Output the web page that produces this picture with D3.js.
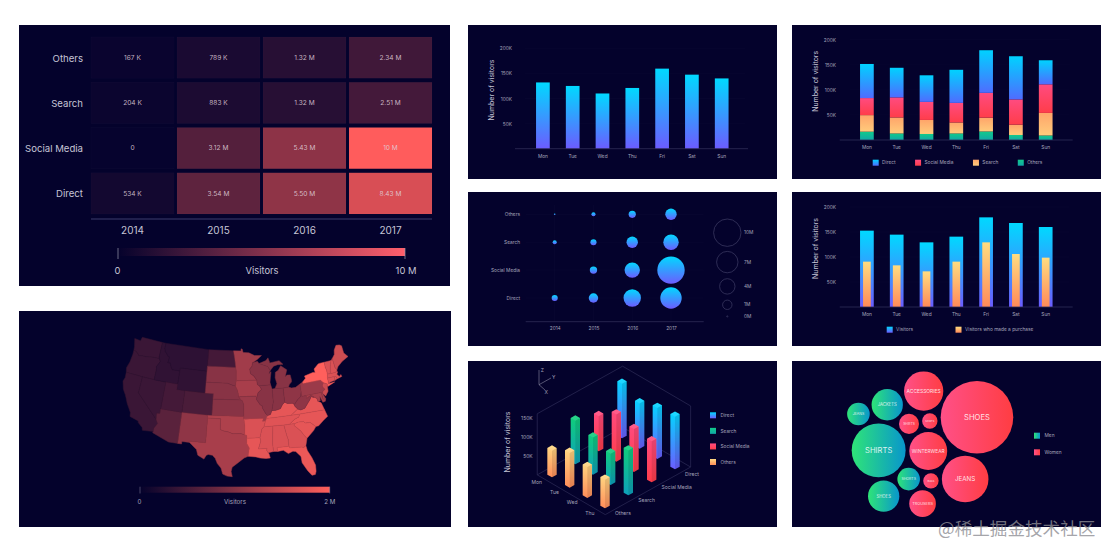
<!DOCTYPE html>
<html>
<head>
<meta charset="utf-8">
<script src="https://cdn.jsdelivr.net/npm/d3@7"></script>
<style>
html,body{margin:0;padding:0;background:#fff;}
svg{display:block;}
text{font-family:Inter,"Noto Sans",sans-serif;}
</style>
</head>
<body>
<svg id="chart" width="1116" height="558"></svg>
<script>
// ---- data ----
var years = ["2014","2015","2016","2017"];
var channels = ["Others","Search","Social Media","Direct"];
var days = ["Mon","Tue","Wed","Thu","Fri","Sat","Sun"];

// heatmap visitors per channel, same order as channels
var heatOthers = [167000,789000,1320000,2340000];
var heatSearch = [204000,883000,1320000,2510000];
var heatSocial = [0,3120000,5430000,10000000];
var heatDirect = [534000,3540000,5500000,8430000];

// thousands of visitors
var weekVisitors = [132,125,110,121,159.5,147.5,140];
var stackDirect = [68,59,53,66,85,86,48];
var stackSocial = [34,40,36,39,49.5,50.5,57];
var stackSearch = [33,32,28,22,27.5,20.5,45];
var stackOthers = [16.6,13,12,13,17,10,9];
var allVisitors = [152.7,144.7,129.3,140.7,179.3,168,160];
var buyers = [90.7,83.3,71.3,90.7,129.3,106,98.7];

// bubble grid, millions of visitors
var dotOthers = [0.05,0.35,0.73,2];
var dotSearch = [0.35,0.6,2,4];
var dotSocial = [null,0.75,4,10];
var dotDirect = [0.6,1,5,7];
var dotLegend = [10,7,4,1,0];

// 3d bars, thousands of visitors
var days3d = ["Mon","Tue","Wed","Thu"];
var series3d = ["Others","Search","Social Media","Direct"];
var bar3dOthers = [69,90,80,74];
var bar3dSearch = [113,96,81,116];
var bar3dSocial = [91,122,111,106];
var bar3dDirect = [141,117,132,136];

// packed bubbles: size and gender, links say which circles touch, rim is the outer ring going clockwise
var bubbleNames = ["SHOES","ACCESSORIES","WINTERWEAR","JEANS","SHIRTS","SKIRTS","BAGS","TROUSERS","SHIRTS","JACKETS","SHOES","JEANS","SHORTS"];
var bubbleValues = [100,29.3,27.3,41.2,7.6,4.5,4.5,13.5,55.2,18.6,18.6,9.7,9.7];
var bubbleGroups = ["Women","Women","Women","Women","Women","Women","Women","Women","Men","Men","Men","Men","Men"];
var bubbleLinks = [[0,1],[0,5],[0,2],[0,3],[1,5],[1,9],[9,4],[9,8],[9,11],[11,8],[8,4],[8,2],[8,12],[8,10],[10,12],[12,7],[12,6],[12,2],[2,4],[2,5],[4,5],[2,6],[2,3],[6,3],[6,7]];
var bubbleRim = [0,3,6,7,12,10,8,11,9,1];

// map: state, visitors in millions, outline in lon/lat
var stateNames = ["WA","OR","CA","NV","ID","MT","WY","UT","AZ","CO","NM","ND","SD","NE","KS","OK","TX","MN","IA","MO","AR","LA","MS","AL","GA","FL","SC","NC","TN","KY","VA","WV","OH","IN","IL","WI","MI","PA","NY","NJ","DE","MD","CT","RI","MA","VT","NH","ME"];
var stateVisitors = [0.42,0.42,0.42,0.42,0.34,0.32,0.34,0.5,0.68,0.55,1.1,0.5,1.05,1.05,1.05,1.35,1.3,1.25,1.3,1.2,1.7,1.8,1.7,1.7,1.7,1.85,1.8,1.8,1.75,1.8,1.8,1.1,1.1,1.05,1.05,1.05,1.05,1.2,2,1.6,1.3,1.3,1.7,1.7,1.7,1.7,1.7,1.6];
var stateOutlines = [
[[[-124.7,48.4],[-123,48.3],[-122.8,49],[-117.03,49],[-117.04,46.4],[-116.92,45.99],[-119,45.93],[-120.5,45.7],[-121.5,45.7],[-122.3,45.55],[-122.8,45.9],[-123.4,46.2],[-124,46.27],[-124.1,46.9]]],
[[[-124,46.27],[-123.4,46.2],[-122.8,45.9],[-122.3,45.55],[-121.5,45.7],[-120.5,45.7],[-119,45.93],[-116.92,45.99],[-116.5,45.5],[-117.2,44.4],[-117.03,44],[-117.03,42],[-120,42],[-124.2,42],[-124.5,42.8],[-124.1,44],[-123.95,45.5]]],
[[[-124.2,42],[-120,42],[-120,39],[-114.63,35],[-114.13,34.3],[-114.72,33.4],[-114.72,32.72],[-117.12,32.53],[-117.3,33],[-118.4,33.75],[-118.5,34.03],[-120.5,34.45],[-120.65,35.15],[-121.9,36.6],[-122.5,37.5],[-122.95,38.1],[-123.7,38.9],[-124.35,40.3],[-124.1,41]]],
[[[-120,42],[-117.03,42],[-114.04,42],[-114.04,36.2],[-114.75,36.1],[-114.63,35],[-120,39]]],
[[[-117.03,49],[-116.05,49],[-116.05,48],[-115.7,47.45],[-114.7,46.7],[-114.35,46.65],[-114.5,45.55],[-113.9,45.6],[-113.45,44.9],[-113,44.45],[-111.05,44.47],[-111.05,42],[-114.04,42],[-117.03,42],[-117.03,44],[-117.2,44.4],[-116.5,45.5],[-116.92,45.99],[-117.04,46.4]]],
[[[-116.05,49],[-104.05,49],[-104.05,45.94],[-104.05,45],[-111.05,45],[-111.05,44.47],[-113,44.45],[-113.45,44.9],[-113.9,45.6],[-114.5,45.55],[-114.35,46.65],[-114.7,46.7],[-115.7,47.45],[-116.05,48]]],
[[[-111.05,45],[-104.05,45],[-104.05,43],[-104.05,41],[-109.05,41],[-111.05,41],[-111.05,42],[-111.05,44.47]]],
[[[-114.04,42],[-111.05,42],[-111.05,41],[-109.05,41],[-109.05,37],[-114.04,37],[-114.04,36.2]]],
[[[-114.04,37],[-109.05,37],[-109.05,31.33],[-111.07,31.33],[-114.81,32.5],[-114.72,32.72],[-114.72,33.4],[-114.13,34.3],[-114.63,35],[-114.75,36.1],[-114.04,36.2]]],
[[[-109.05,41],[-104.05,41],[-102.05,41],[-102.05,40],[-102.05,37],[-103,37],[-109.05,37]]],
[[[-109.05,37],[-103,37],[-103,36.5],[-103.04,32],[-106.62,32],[-106.53,31.78],[-108.2,31.78],[-108.2,31.33],[-109.05,31.33]]],
[[[-104.05,49],[-97.23,49],[-96.85,47.5],[-96.56,45.94],[-104.05,45.94]]],
[[[-104.05,45.94],[-96.56,45.94],[-96.45,45.3],[-96.45,43.5],[-96.6,42.5],[-97.9,42.8],[-98.5,43],[-104.05,43],[-104.05,45]]],
[[[-104.05,43],[-98.5,43],[-97.9,42.8],[-96.6,42.5],[-96.1,41.7],[-95.85,40.9],[-95.77,40.58],[-95.31,40],[-102.05,40],[-102.05,41],[-104.05,41]]],
[[[-102.05,40],[-95.31,40],[-94.9,39.8],[-94.61,39.1],[-94.62,37],[-102.05,37]]],
[[[-103,37],[-102.05,37],[-94.62,37],[-94.62,36.5],[-94.43,35.4],[-94.48,33.64],[-95.5,33.88],[-96.6,33.85],[-97.2,33.85],[-98.1,34.13],[-99.2,34.3],[-100,34.56],[-100,36.5],[-103,36.5]]],
[[[-106.62,32],[-103.04,32],[-103,36.5],[-100,36.5],[-100,34.56],[-99.2,34.3],[-98.1,34.13],[-97.2,33.85],[-96.6,33.85],[-95.5,33.88],[-94.48,33.64],[-94.04,33.55],[-94.04,33],[-94.04,31.99],[-93.55,31.2],[-93.84,29.7],[-94.7,29.4],[-95.9,28.6],[-97.2,27.7],[-97.4,26.9],[-97.15,25.96],[-98.2,26.05],[-99.1,26.4],[-99.5,27.5],[-100.3,28.3],[-100.8,29.25],[-101.4,29.77],[-102.3,29.88],[-102.7,29.7],[-103.15,28.98],[-104.5,29.6],[-104.9,30.6],[-106,31.4],[-106.53,31.78]]],
[[[-97.23,49],[-95.15,49],[-95.15,49.38],[-94.8,49.3],[-94.6,48.7],[-93,48.6],[-91.5,48.07],[-89.6,48],[-90.8,47.3],[-92.1,46.75],[-92.3,46.1],[-92.9,45.6],[-92.75,44.75],[-91.9,44.3],[-91.22,43.5],[-96.45,43.5],[-96.45,45.3],[-96.56,45.94],[-96.85,47.5]]],
[[[-96.45,43.5],[-91.22,43.5],[-91.1,42.7],[-90.64,42.5],[-90.15,41.8],[-91.05,41.2],[-91.42,40.38],[-91.73,40.61],[-95.77,40.58],[-95.85,40.9],[-96.1,41.7],[-96.6,42.5]]],
[[[-95.77,40.58],[-91.73,40.61],[-91.42,40.38],[-91.5,40],[-90.7,39],[-90.2,38.75],[-90.2,38.4],[-89.5,37.3],[-89.13,36.98],[-89.4,36.5],[-89.7,36],[-90.37,36],[-90.15,36.5],[-94.62,36.5],[-94.62,37],[-94.61,39.1],[-94.9,39.8],[-95.31,40]]],
[[[-94.62,36.5],[-90.15,36.5],[-90.37,36],[-89.7,36],[-90.1,35],[-90.6,34.6],[-91.15,33],[-94.04,33],[-94.04,33.55],[-94.48,33.64],[-94.43,35.4]]],
[[[-94.04,33],[-91.15,33],[-91,32.4],[-91.6,31],[-89.73,31],[-89.85,30.67],[-89.55,30.2],[-89.4,30],[-89.2,29.2],[-90.1,29.15],[-91.3,29.3],[-92.2,29.55],[-93.84,29.7],[-93.55,31.2],[-94.04,31.99]]],
[[[-91.15,33],[-90.6,34.6],[-90.1,35],[-88.2,35],[-88.1,34.9],[-88.47,31.9],[-88.4,30.35],[-89.55,30.2],[-89.85,30.67],[-89.73,31],[-91.6,31],[-91,32.4]]],
[[[-88.2,35],[-85.6,35],[-85.18,32.87],[-85,32.3],[-85,31],[-87.6,31],[-87.5,30.3],[-88.4,30.35],[-88.47,31.9],[-88.1,34.9]]],
[[[-85.6,35],[-84.32,35],[-83.1,35],[-83.35,34.7],[-82,33.5],[-81.4,32.6],[-80.9,32.03],[-81.4,30.7],[-82.05,30.36],[-82.2,30.57],[-84.86,30.7],[-85,31],[-85,32.3],[-85.18,32.87]]],
[[[-87.6,31],[-85,31],[-84.86,30.7],[-82.2,30.57],[-82.05,30.36],[-81.4,30.7],[-81.25,29.8],[-80.55,28.4],[-80.05,26.9],[-80.15,25.75],[-80.4,25.2],[-81.1,25.15],[-81.8,26.1],[-82.7,27.7],[-82.75,28.9],[-83.7,29.9],[-84.3,30.05],[-85.3,29.7],[-86.3,30.4],[-87.5,30.3]]],
[[[-83.1,35],[-82.3,35.2],[-81.05,35.15],[-80.8,34.82],[-79.67,34.8],[-78.55,33.86],[-79.2,33.2],[-80.9,32.03],[-81.4,32.6],[-82,33.5],[-83.35,34.7]]],
[[[-84.32,35],[-83.1,35],[-82.3,35.2],[-81.05,35.15],[-80.8,34.82],[-79.67,34.8],[-78.55,33.86],[-77.9,33.9],[-76.6,34.7],[-75.5,35.25],[-75.87,36.55],[-81.68,36.59],[-82,36.1],[-83.1,35.75]]],
[[[-90.1,35],[-88.2,35],[-85.6,35],[-84.32,35],[-83.1,35.75],[-82,36.1],[-81.68,36.59],[-83.68,36.6],[-88.07,36.5],[-89.4,36.5],[-89.7,36]]],
[[[-89.4,36.5],[-88.07,36.5],[-83.68,36.6],[-81.97,37.54],[-82.6,38.17],[-82.6,38.45],[-83,38.73],[-84.2,38.8],[-84.82,39.1],[-85.4,38.7],[-86,38],[-87.1,37.8],[-88.05,37.8],[-88.45,37.1],[-89.13,36.98]]],
[[[-83.68,36.6],[-81.68,36.59],[-75.87,36.55],[-76,37],[-76.3,37.9],[-77,38.3],[-77.05,38.8],[-77.5,39.1],[-77.83,39.13],[-78.35,39.4],[-78.87,38.77],[-79.3,38.42],[-80.3,37.5],[-81.3,37.3],[-81.97,37.54]]],
[[[-81.97,37.54],[-81.3,37.3],[-80.3,37.5],[-79.3,38.42],[-78.87,38.77],[-78.35,39.4],[-77.83,39.13],[-77.72,39.32],[-78.4,39.62],[-79.48,39.2],[-79.48,39.72],[-80.52,39.72],[-80.52,40.64],[-80.85,39.7],[-81.7,39.2],[-82.6,38.45],[-82.6,38.17]]],
[[[-84.82,39.1],[-84.2,38.8],[-83,38.73],[-82.6,38.45],[-81.7,39.2],[-80.85,39.7],[-80.52,40.64],[-80.52,41.98],[-81.7,41.5],[-82.7,41.5],[-83.45,41.73],[-84.8,41.7]]],
[[[-87.53,41.7],[-86.8,41.76],[-84.8,41.7],[-84.82,39.1],[-85.4,38.7],[-86,38],[-87.1,37.8],[-88.05,37.8],[-87.53,39.35]]],
[[[-90.64,42.5],[-87.8,42.5],[-87.53,41.7],[-87.53,39.35],[-88.05,37.8],[-88.45,37.1],[-89.13,36.98],[-89.5,37.3],[-90.2,38.4],[-90.2,38.75],[-90.7,39],[-91.5,40],[-91.42,40.38],[-91.05,41.2],[-90.15,41.8]]],
[[[-92.1,46.75],[-90.8,47],[-90.4,46.55],[-88.1,45.9],[-87.6,45.1],[-88,44.55],[-87.4,44.9],[-87.7,43.8],[-87.9,43],[-87.8,42.5],[-90.64,42.5],[-91.1,42.7],[-91.22,43.5],[-91.9,44.3],[-92.75,44.75],[-92.9,45.6],[-92.3,46.1]]],
[[[-86.8,41.76],[-84.8,41.7],[-83.45,41.73],[-83.1,42.2],[-82.5,42.6],[-82.45,43],[-82.6,43.9],[-83.4,43.95],[-83.9,43.7],[-83.3,44.9],[-84.75,45.78],[-85.5,45],[-86.3,44.7],[-86.5,43.7],[-86.2,42.6]],[[-90.4,46.55],[-88.5,47],[-87.9,47.47],[-87.5,46.5],[-85,46.75],[-84.1,46],[-85.5,46.05],[-86.6,45.85],[-87.6,45.1],[-88.1,45.9]]],
[[[-80.52,41.98],[-79.76,42.27],[-79.76,42],[-75.35,42],[-74.7,41.36],[-75.13,40.98],[-75.1,40.6],[-74.72,40.15],[-75.4,39.8],[-75.79,39.72],[-79.48,39.72],[-80.52,39.72],[-80.52,40.64]]],
[[[-79.76,42],[-79.76,42.27],[-78.9,42.85],[-79.05,43.27],[-76.8,43.63],[-76.2,43.55],[-76.3,44.2],[-75,44.95],[-74.7,45],[-73.35,45],[-73.4,44],[-73.25,43.5],[-73.27,42.75],[-73.5,42.05],[-73.5,41.3],[-73.65,41],[-72,41.05],[-73.9,40.55],[-74,40.7],[-73.9,41],[-74.7,41.36],[-75.35,42]]],
[[[-74.7,41.36],[-73.9,41],[-74,40.5],[-74.1,39.7],[-74.9,38.95],[-75.5,39.5],[-75.4,39.8],[-74.72,40.15],[-75.1,40.6],[-75.13,40.98]]],
[[[-75.79,39.72],[-75.4,39.8],[-75.5,39.5],[-75.05,38.45],[-75.7,38.46]]],
[[[-79.48,39.72],[-75.79,39.72],[-75.7,38.46],[-75.05,38.45],[-75.25,38.03],[-75.9,37.95],[-76.3,39.1],[-76.4,38.3],[-77,38.3],[-77.05,38.8],[-77.5,39.1],[-77.83,39.13],[-77.72,39.32],[-78.4,39.62],[-79.48,39.2]]],
[[[-73.5,42.05],[-71.8,42.02],[-71.85,41.32],[-72.9,41.25],[-73.65,41],[-73.5,41.3]]],
[[[-71.8,42.02],[-71.38,42.02],[-71.15,41.5],[-71.85,41.32]]],
[[[-73.27,42.75],[-72.46,42.73],[-71.3,42.7],[-70.8,42.87],[-70.65,42.65],[-71,42.3],[-70.55,41.8],[-70.05,42.05],[-69.95,41.68],[-71.15,41.5],[-71.38,42.02],[-71.8,42.02],[-73.5,42.05]]],
[[[-73.35,45],[-71.5,45],[-72.05,44.1],[-72.45,43],[-72.46,42.73],[-73.27,42.75],[-73.25,43.5],[-73.4,44]]],
[[[-71.5,45],[-71.08,45.3],[-71,43.6],[-70.7,43.07],[-70.8,42.87],[-71.3,42.7],[-72.46,42.73],[-72.45,43],[-72.05,44.1]]],
[[[-71.08,45.3],[-70.3,45.9],[-70,46.7],[-69.2,47.45],[-68.3,47.35],[-67.8,47.07],[-67.8,45.7],[-67,44.85],[-68.8,44.3],[-70.2,43.6],[-70.7,43.07],[-71,43.6]]]
];

// ---- page setup ----
var bg = "#04022c", textColor = "#c6c5d6", dimText = "#a5a4bb", lineColor = "#2e2d58";
var svg = d3.select("#chart");
var defs = svg.append("defs");

var panels = [[19,25,431,261],[19,311,432,216],[468,25,309,154],[792,25,309,154],[468,192,309,154],[792,192,309,154],[468,361,309,166],[792,361,309,166]];
svg.selectAll("rect.panel").data(panels).enter().append("rect").attr("class","panel")
  .attr("x",function(d){return d[0]}).attr("y",function(d){return d[1]})
  .attr("width",function(d){return d[2]}).attr("height",function(d){return d[3]}).attr("fill",bg);

function gradient(id,c1,c2,horizontal) {
  var g = defs.append("linearGradient").attr("id",id).attr("x1",0).attr("y1",0)
    .attr("x2",horizontal?1:0).attr("y2",horizontal?0:1);
  g.append("stop").attr("offset",0).attr("stop-color",c1);
  g.append("stop").attr("offset",1).attr("stop-color",c2);
}
gradient("blue","#00d9ff","#6c5cff");
gradient("blueStack","#00d2ff","#4f6cff");
gradient("red","#ff4b80","#ff3d4a");
gradient("orange","#ffa56a","#ffcb7c");
gradient("buy","#ffdc80","#ff8a58");
gradient("green","#12c98a","#10a8a8");
gradient("green3d","#10cf78","#0ea0bc");
gradient("peach","#ffd982","#ff8d5a");
gradient("men","#2fe478","#0896cc",true);
gradient("women","#ff5088","#ff3d42",true);
gradient("heatLegend","#05022c","#ff5f6c",true);
gradient("mapLegend","#05022c","#ff5f5c",true);

function cleanAxis(g,size,color) {
  g.select(".domain").remove();
  g.selectAll(".tick line").remove();
  g.selectAll("text").attr("font-size",size).attr("fill",color);
}

// flowing legend: swatch then label, next item starts after the label
function hLegend(items,x0,y,gap) {
  var x = x0, g = svg.append("g");
  items.forEach(function(it) {
    g.append("rect").attr("x",x).attr("y",y-3).attr("width",6).attr("height",6).attr("fill","url(#"+it[1]+")");
    var t = g.append("text").attr("x",x+9.4).attr("y",y).attr("dy","0.35em").attr("font-size",4.8).attr("fill",dimText).text(it[0]);
    x += 9.4 + t.node().getComputedTextLength() + gap;
  });
}
function vLegend(items,x,ys,size) {
  var g = svg.append("g");
  items.forEach(function(it,i) {
    g.append("rect").attr("x",x).attr("y",ys(i)-3).attr("width",6).attr("height",6).attr("fill","url(#"+it[1]+")");
    g.append("text").attr("x",x+10.5).attr("y",ys(i)).attr("dy","0.35em").attr("font-size",size).attr("fill",dimText).text(it[0]);
  });
}
function yTitle(x,y) {
  svg.append("text").attr("transform","translate("+x+","+y+") rotate(-90)").attr("text-anchor","middle").attr("dy","0.35em")
    .attr("font-size",7).attr("fill",textColor).text("Number of visitors");
}

// ---- heatmap ----
(function() {
  var x = d3.scaleBand().domain(years).range([91,432]).paddingInner(0.035);
  var y = d3.scaleBand().domain(channels).range([37,214]).paddingInner(0.09);
  var color = d3.scaleLinear().domain([0,10000000]).range(["#06032e","#ff5c5c"]);
  var rows = [heatOthers,heatSearch,heatSocial,heatDirect];
  var fmt = function(v) {
    if (v == 0) return "0";
    if (v < 1000000) return Math.round(v/1000)+" K";
    if (v == 10000000) return "10 M";
    return (v/1000000).toFixed(2)+" M";
  };
  rows.forEach(function(row,i) {
    var g = svg.append("g").selectAll("g").data(row).enter().append("g");
    g.append("rect").attr("x",function(d,j){return x(years[j])}).attr("y",y(channels[i]))
      .attr("width",x.bandwidth()).attr("height",y.bandwidth())
      .attr("fill",function(d){return color(d)}).attr("stroke","rgba(255,255,255,0.035)").attr("stroke-width",0.6);
    g.append("text").attr("x",function(d,j){return x(years[j])+x.bandwidth()/2}).attr("y",y(channels[i])+y.bandwidth()/2)
      .attr("dy","0.35em").attr("text-anchor","middle").attr("font-size",6.6)
      .attr("fill","#e0d4de").attr("fill-opacity",0.85).text(fmt);
  });
  svg.append("g").attr("transform","translate(83,1)").call(d3.axisLeft(y).tickSize(0).tickPadding(0)).call(cleanAxis,9.6,textColor);
  svg.append("g").attr("transform","translate(0,220)").call(d3.axisBottom(x).tickSize(0).tickPadding(7)).call(cleanAxis,10,textColor);
  svg.append("line").attr("x1",91).attr("x2",432).attr("y1",219).attr("y2",219).attr("stroke","#3d3c6c").attr("stroke-width",1);

  var lx = d3.scaleLinear().domain([0,10000000]).range([118,405]);
  svg.append("rect").attr("x",lx(0)).attr("y",248).attr("width",lx(10000000)-lx(0)).attr("height",8).attr("fill","url(#heatLegend)");
  svg.selectAll("line.htick").data([0,10000000]).enter().append("line").attr("class","htick")
    .attr("x1",lx).attr("x2",lx).attr("y1",248).attr("y2",259).attr("stroke","#9a99ad").attr("stroke-width",0.7);
  svg.append("text").attr("x",lx(0)-0.5).attr("y",271).attr("dy","0.35em").attr("text-anchor","middle").attr("font-size",9.4).attr("fill",textColor).text("0");
  svg.append("text").attr("x",262).attr("y",271).attr("dy","0.35em").attr("text-anchor","middle").attr("font-size",9.4).attr("fill",textColor).text("Visitors");
  svg.append("text").attr("x",lx(10000000)+1).attr("y",271).attr("dy","0.35em").attr("text-anchor","middle").attr("font-size",9.4).attr("fill",textColor).text("10 M");
})();

// ---- map ----
(function() {
  var color = d3.scaleLinear().domain([0,2]).range(["#05022c","#ff5f5c"]);
  var features = stateOutlines.map(function(rings,i) {
    return {type:"Feature",properties:{name:stateNames[i],visitors:stateVisitors[i]},geometry:{type:"MultiPolygon",coordinates:rings.map(function(r) {
      var ring = r.concat([r[0]]);
      if (d3.geoArea({type:"Polygon",coordinates:[ring]}) > 2*Math.PI) ring.reverse();
      return [ring];
    })}};
  });
  var fc = {type:"FeatureCollection",features:features};
  var projection = d3.geoAlbers().fitExtent([[123,337],[348,477]],fc);
  var path = d3.geoPath(projection);
  svg.append("g").selectAll("path").data(features).enter().append("path").attr("d",path)
    .attr("fill",function(d){return color(d.properties.visitors)})
    .attr("stroke",function(d){return d3.color(color(d.properties.visitors)).darker(0.3)}).attr("stroke-width",0.5);

  var lx = d3.scaleLinear().domain([0,2]).range([140,329.7]);
  svg.append("rect").attr("x",lx(0)).attr("y",486.7).attr("width",lx(2)-lx(0)).attr("height",6).attr("fill","url(#mapLegend)");
  svg.selectAll("line.mtick").data([0,2]).enter().append("line").attr("class","mtick")
    .attr("x1",lx).attr("x2",lx).attr("y1",486.7).attr("y2",493.5).attr("stroke","#8c8ba3").attr("stroke-width",0.5);
  svg.append("text").attr("x",lx(0)-0.5).attr("y",501.7).attr("dy","0.35em").attr("text-anchor","middle").attr("font-size",6.2).attr("fill",dimText).text("0");
  svg.append("text").attr("x",235).attr("y",501.7).attr("dy","0.35em").attr("text-anchor","middle").attr("font-size",6.2).attr("fill",dimText).text("Visitors");
  svg.append("text").attr("x",lx(2)).attr("y",501.7).attr("dy","0.35em").attr("text-anchor","middle").attr("font-size",6.2).attr("fill",dimText).text("2 M");
})();

// ---- weekly bar charts share one frame ----
function weekFrame(left,bandLeft,baseY,topY,tickX,titleX) {
  var x = d3.scaleBand().domain(days).range([bandLeft,bandLeft+208.6]).paddingInner(0.54).paddingOuter(0.27);
  var y = d3.scaleLinear().domain([0,200]).range([baseY,topY]);
  var ticks = [50,100,150,200];
  svg.append("g").selectAll("line").data(ticks).enter().append("line")
    .attr("x1",left+10).attr("x2",left+230).attr("y1",y).attr("y2",y).attr("stroke","#fff").attr("stroke-opacity",0.035).attr("stroke-width",0.5);
  svg.append("g").attr("transform","translate("+tickX+",0)")
    .call(d3.axisLeft(y).tickValues(ticks).tickSize(0).tickPadding(0).tickFormat(function(d){return d+"K"})).call(cleanAxis,4.8,dimText);
  svg.append("g").attr("transform","translate(0,"+baseY+")")
    .call(d3.axisBottom(x).tickSize(0).tickPadding(5.5)).call(cleanAxis,4.8,dimText);
  yTitle(titleX,(baseY+topY)/2-8.5);
  return {x:x,y:y,baseY:baseY,left:left};
}
function baseline(f) {
  svg.append("line").attr("x1",f.left).attr("x2",f.left+233).attr("y1",f.baseY).attr("y2",f.baseY).attr("stroke",lineColor).attr("stroke-width",0.8);
}

(function() {
  var f = weekFrame(515,528,148.7,48.3,512,492);
  svg.append("g").selectAll("rect").data(weekVisitors).enter().append("rect")
    .attr("x",function(d,i){return f.x(days[i])}).attr("width",f.x.bandwidth())
    .attr("y",f.y).attr("height",function(d){return f.baseY-f.y(d)}).attr("fill","url(#blue)");
  baseline(f);
})();

(function() {
  var f = weekFrame(839.7,852,140,39.7,836,816);
  var keys = ["others","search","social","direct"];
  var table = days.map(function(d,i) {
    return {day:d,others:stackOthers[i],search:stackSearch[i],social:stackSocial[i],direct:stackDirect[i]};
  });
  var fills = {others:"green",search:"orange",social:"red",direct:"blueStack"};
  var layers = d3.stack().keys(keys)(table);
  svg.append("g").selectAll("g").data(layers).enter().append("g").attr("fill",function(d){return "url(#"+fills[d.key]+")"})
    .selectAll("rect").data(function(d){return d}).enter().append("rect")
    .attr("x",function(d){return f.x(d.data.day)}).attr("width",f.x.bandwidth())
    .attr("y",function(d){return f.y(d[1])}).attr("height",function(d){return f.y(d[0])-f.y(d[1])});
  baseline(f);
  hLegend([["Direct","blueStack"],["Social Media","red"],["Search","orange"],["Others","green"]],872.7,162.7,19.5);
})();

(function() {
  var f = weekFrame(839.7,852,307,207,836,816);
  svg.append("g").selectAll("rect").data(allVisitors).enter().append("rect")
    .attr("x",function(d,i){return f.x(days[i])}).attr("width",f.x.bandwidth())
    .attr("y",f.y).attr("height",function(d){return f.baseY-f.y(d)}).attr("fill","url(#blue)");
  var w = 7.7;
  svg.append("g").selectAll("rect").data(buyers).enter().append("rect")
    .attr("x",function(d,i){return f.x(days[i])+(f.x.bandwidth()-w)/2}).attr("width",w)
    .attr("y",f.y).attr("height",function(d){return f.baseY-f.y(d)}).attr("fill","url(#buy)");
  baseline(f);
  hLegend([["Visitors","blue"],["Visitors who made a purchase","buy"]],886.7,329.7,42.5);
})();

// ---- bubble grid ----
(function() {
  var x = d3.scalePoint().domain(years).range([554.7,671]);
  var y = d3.scalePoint().domain(channels).range([214.3,298]);
  // radius as on the size legend
  var r = d3.scaleLinear().domain([0,1,4,7,10]).range([0.6,4.7,7.7,10.7,13.7]);
  var g = svg.append("g").attr("stroke","#fff").attr("stroke-opacity",0.04).attr("stroke-width",0.5);
  channels.forEach(function(c){ g.append("line").attr("x1",525.7).attr("x2",703.7).attr("y1",y(c)).attr("y2",y(c)); });
  years.forEach(function(c){ g.append("line").attr("x1",x(c)).attr("x2",x(c)).attr("y1",205).attr("y2",321.7); });
  [dotOthers,dotSearch,dotSocial,dotDirect].forEach(function(row,i) {
    svg.append("g").selectAll("circle").data(row.filter(function(d){return d!==null})).enter().append("circle")
      .attr("cx",function(d){return x(years[row.indexOf(d)])}).attr("cy",y(channels[i]))
      .attr("r",r).attr("fill","url(#blue)");
  });
  svg.append("g").attr("transform","translate(520,0)").call(d3.axisLeft(y).tickSize(0).tickPadding(0)).call(cleanAxis,4.8,dimText);
  svg.append("g").attr("transform","translate(0,321.7)").call(d3.axisBottom(x).tickSize(0).tickPadding(5.2)).call(cleanAxis,4.8,dimText);
  svg.append("line").attr("x1",525.7).attr("x2",703.7).attr("y1",321.7).attr("y2",321.7).attr("stroke",lineColor).attr("stroke-width",0.8);

  // size legend stacks downwards, circles are stacked from their radii
  var lg = svg.append("g"), prevBottom = 219, gaps = [0,5,5.9,6,6.3];
  dotLegend.forEach(function(v,i) {
    var c = prevBottom + r(v) + gaps[i];
    lg.append("circle").attr("cx",727.3).attr("cy",c).attr("r",r(v)).attr("fill","none").attr("stroke","#3f3e66").attr("stroke-width",0.7);
    lg.append("text").attr("x",744).attr("y",c).attr("dy","0.35em").attr("font-size",4.8).attr("fill",dimText).text(v+"M");
    prevBottom = c + r(v);
  });
})();

// ---- isometric bars ----
(function() {
  var dayPos = d3.scalePoint().domain(days3d).range([0,3]);
  var seriesPos = d3.scalePoint().domain(series3d).range([0,3]);
  var z = d3.scaleLinear().domain([0,150]).range([0,58]);
  function project(d,s,h) {
    return [552 + d*17.67 + s*23.33, 474.7 + d*10.33 - s*13 - h];
  }
  var d0 = -0.4, d1 = 3.45, s0 = -0.33, s1 = 3.33, h1 = z(158);
  var edges = [
    [project(d0,s0,0),project(d1,s0,0)],[project(d1,s0,0),project(d1,s1,0)],[project(d1,s1,0),project(d0,s1,0)],[project(d0,s1,0),project(d0,s0,0)],
    [project(d0,s0,0),project(d0,s0,h1)],[project(d0,s0,h1),project(d0,s1,h1)],[project(d0,s1,h1),project(d1,s1,h1)],[project(d1,s1,h1),project(d1,s1,0)]
  ];
  svg.append("g").selectAll("line").data(edges).enter().append("line")
    .attr("x1",function(d){return d[0][0]}).attr("y1",function(d){return d[0][1]})
    .attr("x2",function(d){return d[1][0]}).attr("y2",function(d){return d[1][1]})
    .attr("stroke",lineColor).attr("stroke-width",0.7);

  var bars = [];
  var fills = {"Others":"peach","Search":"green3d","Social Media":"red","Direct":"blue"};
  [bar3dOthers,bar3dSearch,bar3dSocial,bar3dDirect].forEach(function(row,si) {
    row.forEach(function(v,di) {
      bars.push({day:days3d[di],series:series3d[si],value:v});
    });
  });
  bars.forEach(function(b){ b.base = project(dayPos(b.day),seriesPos(b.series),0); });
  bars.sort(function(a,b){ return a.base[1]-b.base[1]; });
  var w = 4.67, k = 2.67;
  var poly = d3.line();
  var g = svg.append("g").selectAll("g").data(bars).enter().append("g");
  g.append("path").attr("fill",function(b){return "url(#"+fills[b.series]+")"}).attr("d",function(b) {
    var cx = b.base[0], cy = b.base[1], h = z(b.value);
    return poly([[cx-w,cy-h],[cx,cy-h-k],[cx+w,cy-h],[cx+w,cy],[cx,cy+k],[cx-w,cy]])+"Z";
  });
  // darker right face and lighter cap
  g.append("path").attr("fill","#000").attr("fill-opacity",0.1).attr("d",function(b) {
    var cx = b.base[0], cy = b.base[1], h = z(b.value);
    return poly([[cx,cy-h+k],[cx+w,cy-h],[cx+w,cy],[cx,cy+k]])+"Z";
  });
  g.append("path").attr("fill","#fff").attr("fill-opacity",0.1).attr("d",function(b) {
    var cx = b.base[0], cy = b.base[1], h = z(b.value);
    return poly([[cx-w,cy-h],[cx,cy-h-k],[cx+w,cy-h],[cx,cy-h+k]])+"Z";
  });

  var lab = svg.append("g").attr("font-size",5).attr("fill",dimText);
  days3d.forEach(function(d) {
    var p = project(dayPos(d),s0,0);
    lab.append("text").attr("x",p[0]-7.5).attr("y",p[1]+3).attr("dy","0.35em").attr("text-anchor","middle").text(d);
  });
  series3d.forEach(function(s) {
    var p = project(d1,seriesPos(s),0);
    lab.append("text").attr("x",p[0]+2).attr("y",p[1]+3).attr("dy","0.35em").text(s);
  });
  [50,100,150].forEach(function(v) {
    var p = project(d0,s0,z(v));
    lab.append("text").attr("x",532.7).attr("y",p[1]+1).attr("dy","0.35em").attr("text-anchor","end").text(v+"K");
  });
  yTitle(507.7,442);

  // little axis key
  var key = svg.append("g").attr("stroke",dimText).attr("stroke-width",0.5);
  var o = [539,384.7];
  key.append("line").attr("x1",o[0]).attr("y1",o[1]).attr("x2",o[0]).attr("y2",370);
  key.append("line").attr("x1",o[0]).attr("y1",o[1]).attr("x2",551).attr("y2",378);
  key.append("line").attr("x1",o[0]).attr("y1",o[1]).attr("x2",545).attr("y2",390);
  [["Z",542.3,370],["Y",553.7,377.3],["X",546.3,392.7]].forEach(function(t) {
    lab.append("text").attr("x",t[1]).attr("y",t[2]).attr("dy","0.35em").attr("text-anchor","middle").text(t[0]);
  });

  vLegend([["Direct","blue"],["Search","green"],["Social Media","red"],["Others","peach"]],710,
    d3.scalePoint().domain([0,1,2,3]).range([415.3,462]),4.8);
})();

// ---- packed bubbles: links and collision find the layout ----
(function() {
  var r = d3.scaleSqrt().domain([0,100]).range([0,36.3]);
  var font = d3.scaleLinear().domain([7.7,11,20,27]).range([2.6,3.5,5,7.6]).clamp(true);
  var gap = 3.3;
  var nodes = bubbleValues.map(function(v,i){ return {i:i,r:r(v),x:0,y:0}; });
  // rim circles start on a ring in their clockwise order, the rest in the middle, so nothing tangles
  bubbleRim.forEach(function(id,k) {
    var ang = 2*Math.PI*k/bubbleRim.length;
    nodes[id].x = 90*Math.cos(ang);
    nodes[id].y = 90*Math.sin(ang);
  });
  nodes[2].x = 6; nodes[4].y = -8; nodes[5].x = 10; nodes[5].y = -14;
  var links = bubbleLinks.map(function(l){ return {source:l[0],target:l[1]}; });
  var sim = d3.forceSimulation(nodes).alphaDecay(0.004).alphaMin(0)
    .force("link",d3.forceLink(links).id(function(n){return n.i}).distance(function(l){return l.source.r+l.target.r+gap}).strength(1).iterations(4))
    .force("collide",d3.forceCollide(function(n){return n.r+gap/2}).iterations(3))
    .stop();
  sim.tick(2000);

  // turn the result so the big SHIRTS and SHOES circles line up like the picture
  var a = nodes[8], b = nodes[0], c = nodes[1];
  var flip = ((b.x-a.x)*(c.y-a.y)-(b.y-a.y)*(c.x-a.x)) > 0 ? -1 : 1;
  nodes.forEach(function(n){ n.y *= flip; });
  var turn = -18.6*Math.PI/180 - Math.atan2(b.y-a.y,b.x-a.x);
  nodes.forEach(function(n) {
    var x = n.x*Math.cos(turn)-n.y*Math.sin(turn), y = n.x*Math.sin(turn)+n.y*Math.cos(turn);
    n.x = x; n.y = y;
  });
  var mx = (d3.min(nodes,function(n){return n.x-n.r})+d3.max(nodes,function(n){return n.x+n.r}))/2;
  var my = (d3.min(nodes,function(n){return n.y-n.r})+d3.max(nodes,function(n){return n.y+n.r}))/2;
  var g = svg.append("g").attr("transform","translate("+(930.2-mx)+","+(444.2-my)+")")
    .selectAll("g").data(nodes).enter().append("g");
  g.append("circle").attr("cx",function(n){return n.x}).attr("cy",function(n){return n.y}).attr("r",function(n){return n.r})
    .attr("fill",function(n){return bubbleGroups[n.i]=="Men"?"url(#men)":"url(#women)"});
  g.append("text").attr("x",function(n){return n.x}).attr("y",function(n){return n.y}).attr("dy","0.35em").attr("text-anchor","middle")
    .attr("font-size",function(n){return font(n.r)}).attr("fill","#fff").attr("fill-opacity",0.85).text(function(n){return bubbleNames[n.i]});
  vLegend([["Men","men"],["Women","women"]],1034,d3.scalePoint().domain([0,1]).range([435.7,452.3]),4.8);
})();

// site mark on the lower right corner of the picture
svg.append("text").attr("x",938).attr("y",535).attr("font-size",17.6).attr("fill","#8d8d93").attr("fill-opacity",0.8)
  .style("font-family","'Noto Sans CJK SC',sans-serif").text("@稀土掘金技术社区");
</script>
</body>
</html>
